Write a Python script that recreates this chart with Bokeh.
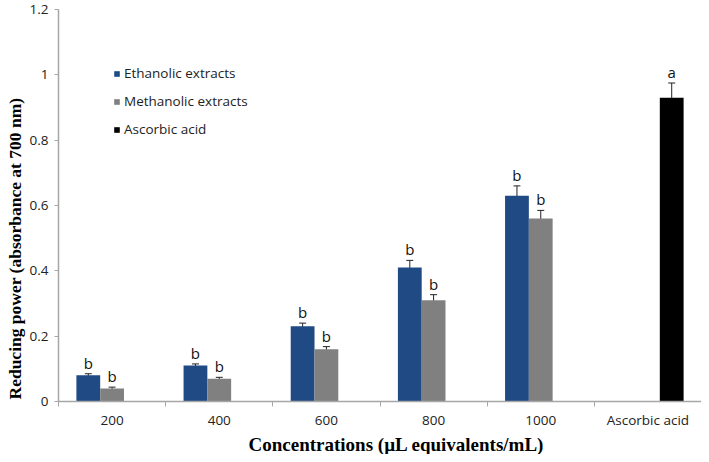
from bokeh.plotting import figure
from bokeh.models import (ColumnDataSource, Range1d, FixedTicker, Whisker, TeeHead,
                          Legend, LegendItem, Title)
from bokeh.core.properties import value
from bokeh.embed import file_html
from bokeh.resources import INLINE

categories = ["200", "400", "600", "800", "1000", "Ascorbic acid"]
ethanolic = [0.08, 0.11, 0.23, 0.41, 0.63]
ethanolic_err = [0.005, 0.005, 0.01, 0.022, 0.03]
methanolic = [0.04, 0.07, 0.16, 0.31, 0.56]
methanolic_err = [0.004, 0.004, 0.008, 0.017, 0.025]
ascorbic = [0.93]
ascorbic_err = [0.045]
eth_letters = ["b", "b", "b", "b", "b"]
meth_letters = ["b", "b", "b", "b", "b"]
asc_letters = ["a"]
y_ticks = [0, 0.2, 0.4, 0.6, 0.8, 1.0, 1.2]
y_tick_labels = ["0", "0.2", "0.4", "0.6", "0.8", "1", "1.2"]
x_title = "Concentrations (\u00b5L equivalents/mL)"
y_title = "Reducing power (absorbance at 700 nm)"

BAR_W = 0.222
BLUE = "#1f4a84"
GRAY = "#808080"
AXIS_GRAY = "#a6a6a6"
TICK_FONT = "Open Sans"

p = figure(width=701, height=454, output_backend="svg", toolbar_location=None,
           x_range=Range1d(0, len(categories)), y_range=Range1d(0, 1.2),
           min_border_left=57, min_border_right=0, min_border_top=9, min_border_bottom=53)
p.outline_line_color = None
p.grid.grid_line_color = None
p.background_fill_color = "white"
p.border_fill_color = "white"


def make_source(vals, errs, letters, start_idx, offset):
    xs = [start_idx + i + 0.5 + offset for i in range(len(vals))]
    return ColumnDataSource(dict(
        x=xs, top=vals,
        upper=[v + e for v, e in zip(vals, errs)],
        lower=[v - e for v, e in zip(vals, errs)],
        letter=letters,
    ))


src_e = make_source(ethanolic, ethanolic_err, eth_letters, 0, -BAR_W)
src_m = make_source(methanolic, methanolic_err, meth_letters, 0, 0.0)
src_a = make_source(ascorbic, ascorbic_err, asc_letters, len(categories) - 1, BAR_W)

r_e = p.vbar(x="x", top="top", width=BAR_W, source=src_e, fill_color=BLUE, line_color=None)
r_m = p.vbar(x="x", top="top", width=BAR_W, source=src_m, fill_color=GRAY, line_color=None)
r_a = p.vbar(x="x", top="top", width=BAR_W, source=src_a, fill_color="black", line_color=None)

for src in (src_e, src_m, src_a):
    w = Whisker(base="x", upper="upper", lower="lower", source=src,
                line_color="#222222", line_width=1,
                upper_head=TeeHead(size=7, line_color="#222222", line_width=1),
                lower_head=TeeHead(size=7, line_color="#222222", line_width=1))
    p.add_layout(w)
    p.text(x="x", y="upper", text="letter", source=src, text_align="center",
           text_baseline="bottom", y_offset=-1, text_font=value(TICK_FONT),
           text_font_size="15px", text_color="#111111")

# axes
xa = p.xaxis[0]
xa.ticker = FixedTicker(ticks=[i + 0.5 for i in range(len(categories))],
                        minor_ticks=list(range(len(categories) + 1)))
xa.major_label_overrides = {i + 0.5: c for i, c in enumerate(categories)}
xa.major_tick_out = 0
xa.major_tick_in = 0
xa.minor_tick_out = 5
xa.minor_tick_in = 0
xa.minor_tick_line_color = AXIS_GRAY
xa.axis_line_color = AXIS_GRAY
xa.axis_line_width = 1.5
xa.major_label_text_font = TICK_FONT
xa.major_label_text_font_size = "13.5px"
xa.major_label_text_color = "#222222"
xa.major_label_standoff = 4

ya = p.yaxis[0]
ya.ticker = FixedTicker(ticks=y_ticks, minor_ticks=[])
ya.major_label_overrides = {t: l for t, l in zip(y_ticks, y_tick_labels)}
ya.major_tick_out = 4
ya.major_tick_in = 0
ya.major_tick_line_color = AXIS_GRAY
ya.minor_tick_line_color = None
ya.axis_line_color = AXIS_GRAY
ya.axis_line_width = 1.5
ya.major_label_text_font = TICK_FONT
ya.major_label_text_font_size = "13.5px"
ya.major_label_text_color = "#222222"
ya.major_label_standoff = 6

# axis titles as side-panel titles
p.add_layout(Title(text=x_title, align="left", offset=190, standoff=0,
                   text_font="Liberation Serif", text_font_style="bold",
                   text_font_size="19px", text_color="black"), "below")
p.add_layout(Title(text=y_title, align="left", offset=2, standoff=4,
                   text_font="Liberation Serif", text_font_style="bold",
                   text_font_size="17.5px", text_color="black"), "left")

legend = Legend(items=[
    LegendItem(label="Ethanolic extracts", renderers=[r_e]),
    LegendItem(label="Methanolic extracts", renderers=[r_m]),
    LegendItem(label="Ascorbic acid", renderers=[r_a]),
], location=(55, 263), orientation="vertical")
legend.border_line_color = None
legend.background_fill_alpha = 0
legend.padding = 0
legend.margin = 0
legend.spacing = 10
legend.glyph_width = 7
legend.glyph_height = 7
legend.label_height = 15
legend.label_standoff = 4
legend.label_text_font = TICK_FONT
legend.label_text_font_size = "13.5px"
legend.label_text_color = "#222222"
p.add_layout(legend)

open("out.html", "w").write(file_html(p, INLINE))
